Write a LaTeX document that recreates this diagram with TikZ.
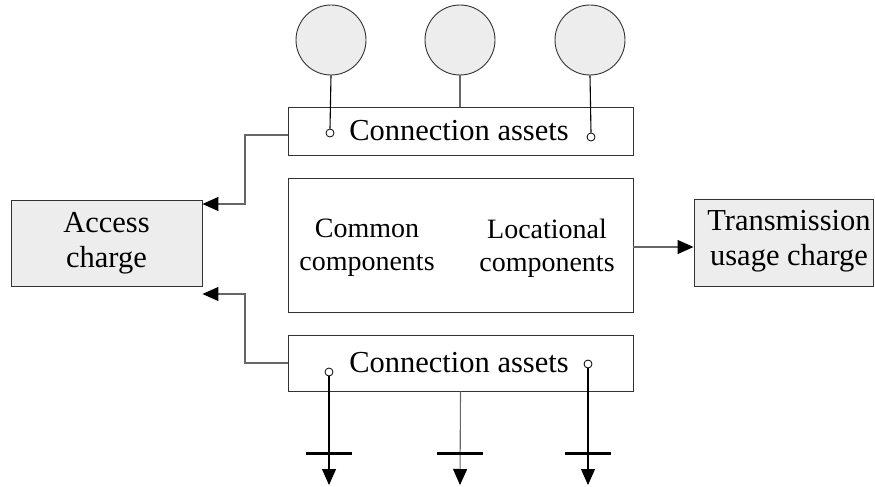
\documentclass[tikz,border=0pt]{standalone}
\usepackage{fontspec}
\setmainfont{Liberation Serif}
\usetikzlibrary{arrows.meta}
\begin{document}
\begin{tikzpicture}[x=1pt,y=-1pt,
  boxline/.style={draw=black!80, line width=0.9pt},
  gline/.style={draw=black!60, line width=1.1pt},
  bline/.style={draw=black, line width=1.1pt},
  tip/.style={-{Triangle[length=16pt,width=14pt,color=black]}},
  txt/.style={font=\fontsize{30.5}{35}\selectfont, align=center, inner sep=0pt},
  midtxt/.style={font=\fontsize{28}{33}\selectfont, align=center, inner sep=0pt},
  src/.style={circle, boxline, fill=black!7, minimum size=70pt, inner sep=0pt},
  term/.style={circle, draw=black, line width=0.8pt, fill=white, minimum size=8pt, inner sep=0pt},
  gbar/.style={draw=black, line width=3pt}]
\useasboundingbox (0,0) rectangle (875,487);
% boxes
\node[boxline, minimum width=345pt, minimum height=48pt, inner sep=0pt] (top) at (460.5,131) {};
\node[boxline, minimum width=345pt, minimum height=134pt, inner sep=0pt] (mid) at (460.5,245) {};
\node[boxline, minimum width=345pt, minimum height=56pt, inner sep=0pt] (bot) at (460.5,363) {};
\node[boxline, fill=black!7, minimum width=191pt, minimum height=86pt, inner sep=0pt] (acc) at (106.5,243) {};
\node[boxline, fill=black!7, minimum width=179pt, minimum height=87pt, inner sep=0pt] (tra) at (783.5,242.5) {};
% texts
\node[txt] (toptxt) at (459,131) {Connection assets};
\node[txt] (bottxt) at (459,363) {Connection assets};
\node[midtxt] (comm) at (367,248) {Common\\components};
\node[midtxt] (loc) at (547,248) {Locational\\components};
\node[txt] (acctxt) at (106.5,243) {Access\\charge};
\node[txt] (tratxt) at (789,241) {Transmission\\usage charge};
% sources
\node[src] (c1) at (331,40) {};
\node[src] (c2) at (460,40) {};
\node[src] (c3) at (590,40) {};
% terminals
\node[term] (t1) at (330,133) {};
\node[term] (t2) at (591,137) {};
\node[term] (b1) at (329,372) {};
\node[term] (b2) at (588,364) {};
% source lines
\draw[bline] (c1.south) -- (t1.north);
\draw[gline] (c2.south) -- (c2.south |- top.north);
\draw[bline] (c3.south) -- (t2.north);
% loads
\coordinate (g1) at (329,485);
\coordinate (g2) at (460,485);
\coordinate (g3) at (588,485);
\draw[bline,tip] (b1.south) -- (g1);
\draw[gline,tip] (bot.south) -- (g2);
\draw[bline,tip] (b2.south) -- (g3);
\draw[gbar] (306,453) -- (352,453);
\draw[gbar] (437,453) -- (483,453);
\draw[gbar] (565,453) -- (611,453);
% access connectors
\coordinate (ta) at (288,135);
\coordinate (ba) at (288,363);
\draw[gline,tip] (ta) -- (245,135) -- (245,204) -- (acc.east |- 0,204);
\draw[gline,tip] (ba) -- (245,363) -- (245,294) -- (acc.east |- 0,294);
% transmission
\draw[gline,tip] (mid.east |- 0,247) -- (tra.west |- 0,247);
\end{tikzpicture}
\end{document}
